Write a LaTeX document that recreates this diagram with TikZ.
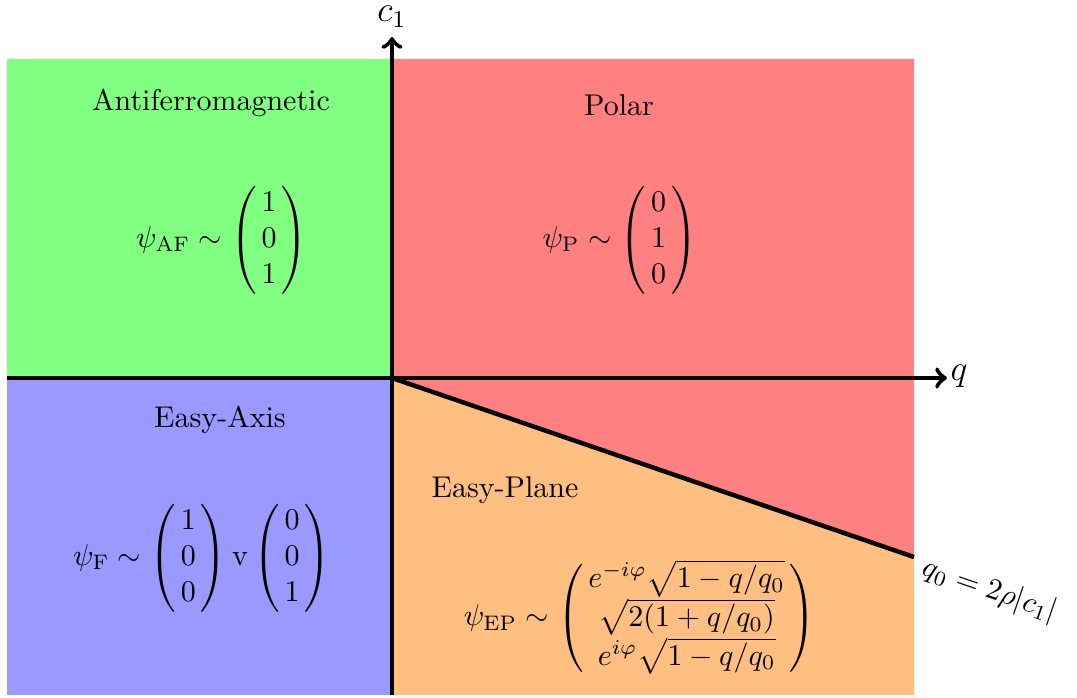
\documentclass[tikz,border=0pt]{standalone}
\usepackage{amsmath}
\newcommand{\pv}[3]{\begin{pmatrix}\,#1\,\\\,#2\,\\\,#3\,\end{pmatrix}}
\begin{document}
\begin{tikzpicture}[x=0.33333pt,y=-0.33333pt,
  axis/.style={line width=1.5pt,->},
  bline/.style={line width=1.5pt},
  lbl/.style={inner sep=0pt}]
\useasboundingbox (0,0) rectangle (1077,698);
% regions
\fill[green!50] (7,59) rectangle (392,378);
\fill[red!50] (392,59) rectangle (914,378);
\fill[red!50] (392,378) -- (914,378) -- (914,557) -- cycle;
\fill[blue!40] (7,378) rectangle (392,695);
\fill[orange!50] (392,378) -- (914,557) -- (914,695) -- (392,695) -- cycle;
% axes
\coordinate (O) at (392,378);
\coordinate (xs) at (7,378);
\coordinate (xe) at (947,378);
\coordinate (ys) at (392,695);
\coordinate (ye) at (392,37);
\coordinate (de) at (914,557);
\draw[axis] (xs) -- (xe);
\draw[axis] (ys) -- (ye);
\draw[bline] (O) -- (de);
\node[lbl,anchor=west,font=\large] (ql) at (950,376) {$q$};
\node[lbl,anchor=south,font=\large] (cl) at (392,28) {$c_1$};
\node[anchor=north west,rotate=-19,inner sep=1pt] (q0) at (926,549) {$q_0 = 2\rho|c_1|$};
% labels
\node (af) at (211,103) {Antiferromagnetic};
\node (afm) at (222,240) {$\psi_{\mathrm{AF}} \sim \pv{1}{0}{1}$};
\node (po) at (619,105) {Polar};
\node (pom) at (620,240) {$\psi_{\mathrm{P}} \sim \pv{0}{1}{0}$};
\node (ea) at (220,420) {Easy-Axis};
\node (eam) at (202,558) {$\psi_{\mathrm{F}} \sim \pv{1}{0}{0}\mathrm{v}\pv{0}{0}{1}$};
\node (ep) at (505,490) {Easy-Plane};
\node (epm) at (640,618) {$\psi_{\mathrm{EP}} \sim \begin{pmatrix}\,e^{-i\varphi}\sqrt{1-q/q_0}\,\\ \sqrt{2(1+q/q_0)}\\ e^{i\varphi}\sqrt{1-q/q_0}\end{pmatrix}$};
\end{tikzpicture}
\end{document}
